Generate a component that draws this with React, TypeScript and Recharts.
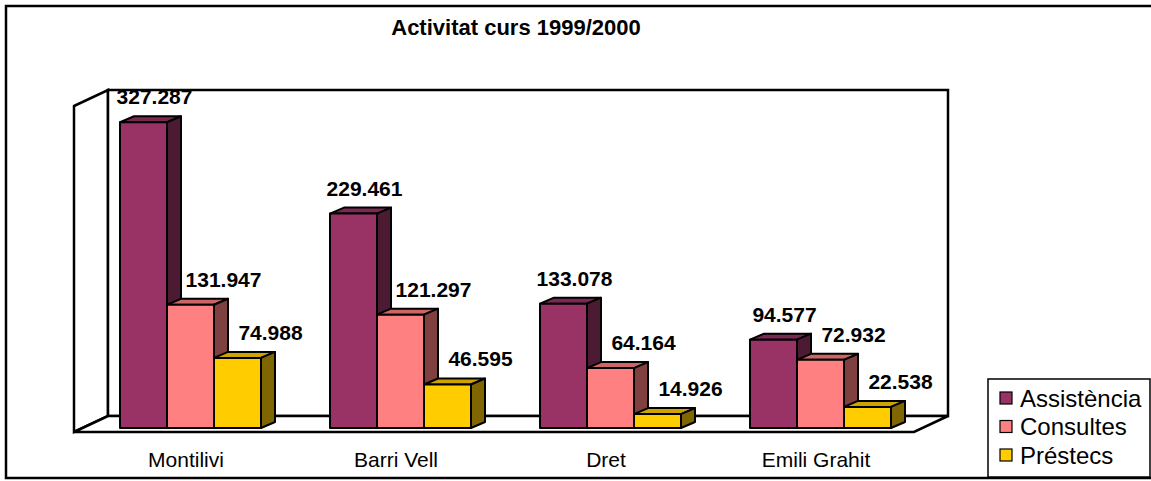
import React from 'react';
import { Bar, BarChart, Customized, LabelList, XAxis, YAxis } from 'recharts';

const categories = ['Montilivi', 'Barri Vell', 'Dret', 'Emili Grahit'];
const assistencia = [327287, 229461, 133078, 94577];
const consultes = [131947, 121297, 64164, 72932];
const prestecs = [74988, 46595, 14926, 22538];

const seriesNames = ['Assistència', 'Consultes', 'Préstecs'];

const data = categories.map((name, i) => ({
  name,
  assistencia: assistencia[i],
  consultes: consultes[i],
  prestecs: prestecs[i],
}));

const WIDTH = 1151;
const HEIGHT = 481;
const PLOT = { left: 85, top: 101, right: 925, bottom: 428 };
const DEPTH_X = 14;
const DEPTH_Y = 6;
const FONT = 'Arial, "Liberation Sans", sans-serif';

const series = [
  { key: 'assistencia', name: seriesNames[0], front: '#993366', top: '#7a2952', side: '#4d1a33', labelDx: 11 },
  { key: 'consultes', name: seriesNames[1], front: '#ff8080', top: '#cc6666', side: '#804040', labelDx: 33 },
  { key: 'prestecs', name: seriesNames[2], front: '#ffcc00', top: '#cca300', side: '#806600', labelDx: 33 },
];

const fmt = (n: number) => {
  const k = Math.floor(n / 1000);
  return k > 0 ? `${k}.${String(n % 1000).padStart(3, '0')}` : String(n);
};

function makeShape(s: (typeof series)[number]) {
  return (props: any) => {
    const { x, y, width, height } = props;
    if (!height || height <= 0) return null;
    const dx = DEPTH_X;
    const dy = DEPTH_Y;
    return (
      <g stroke="#000" strokeWidth={2} strokeLinejoin="round">
        <polygon
          points={`${x},${y} ${x + dx},${y - dy} ${x + width + dx},${y - dy} ${x + width},${y}`}
          fill={s.top}
        />
        <polygon
          points={`${x + width},${y} ${x + width + dx},${y - dy} ${x + width + dx},${y + height - dy} ${x + width},${y + height}`}
          fill={s.side}
        />
        <rect x={x} y={y} width={width} height={height} fill={s.front} />
      </g>
    );
  };
}

function makeLabel(s: (typeof series)[number]) {
  return (props: any) => {
    const { x, y, width, value } = props;
    return (
      <text
        x={x + width / 2 + s.labelDx}
        y={y - 18}
        textAnchor="middle"
        fontFamily={FONT}
        fontWeight="bold"
        fontSize={21}
        fill="#000"
      >
        {fmt(value)}
      </text>
    );
  };
}

function Walls() {
  const back = { l: PLOT.left + 23, r: PLOT.right + 23, t: PLOT.top - 11, b: PLOT.bottom - 12 };
  const front = { l: PLOT.left - 11, r: PLOT.right - 11, t: PLOT.top + 5, b: PLOT.bottom + 4 };
  return (
    <g stroke="#000" strokeWidth={2.5} fill="none">
      <rect x={6} y={6} width={WIDTH + 20} height={472} fill="#fff" />
      <polygon
        points={`${front.l},${front.t} ${back.l},${back.t} ${back.l},${back.b} ${front.l},${front.b}`}
        fill="#fff"
      />
      <rect x={back.l} y={back.t} width={back.r - back.l} height={back.b - back.t} fill="#fff" />
      <polygon
        points={`${front.l},${front.b} ${back.l},${back.b} ${back.r},${back.b} ${front.r},${front.b}`}
        fill="#fff"
      />
      <text
        x={516}
        y={35}
        textAnchor="middle"
        fontFamily={FONT}
        fontWeight="bold"
        fontSize={22}
        fill="#000"
        stroke="none"
      >
        Activitat curs 1999/2000
      </text>
    </g>
  );
}

function LegendBox() {
  const top = 379;
  return (
    <g>
      <rect x={988} y={top} width={162} height={98} fill="#fff" stroke="#000" strokeWidth={1.5} />
      {series.map((s, i) => {
        const cy = 398 + i * 28.5;
        return (
          <g key={s.key}>
            <rect x={1000} y={cy - 6} width={12} height={12} fill={s.front} stroke="#000" strokeWidth={1.2} />
            <text x={1020} y={cy + 8.5} fontFamily={FONT} fontSize={24} fill="#000">
              {s.name}
            </text>
          </g>
        );
      })}
    </g>
  );
}

function CategoryTick(props: any) {
  const { x, payload } = props;
  return (
    <text x={x - 4} y={PLOT.bottom + 39} textAnchor="middle" fontFamily={FONT} fontSize={21} fill="#000">
      {payload.value}
    </text>
  );
}

export default function App() {
  return (
    <div style={{ position: 'absolute', left: 0, top: 0, width: WIDTH, height: HEIGHT, background: '#fff' }}>
      <BarChart
        width={WIDTH}
        height={HEIGHT}
        data={data}
        margin={{ top: PLOT.top, left: PLOT.left, right: WIDTH - PLOT.right, bottom: HEIGHT - PLOT.bottom - 30 }}
        barCategoryGap="16.667%"
        barGap={0}
      >
        <Customized component={Walls} />
        <XAxis dataKey="name" height={30} axisLine={false} tickLine={false} tick={<CategoryTick />} interval={0} />
        <YAxis hide domain={[0, 350000]} />
        {series.map((s) => (
          <Bar key={s.key} dataKey={s.key} name={s.name} isAnimationActive={false} shape={makeShape(s)}>
            <LabelList dataKey={s.key} content={makeLabel(s)} />
          </Bar>
        ))}
        <Customized component={LegendBox} />
      </BarChart>
    </div>
  );
}
